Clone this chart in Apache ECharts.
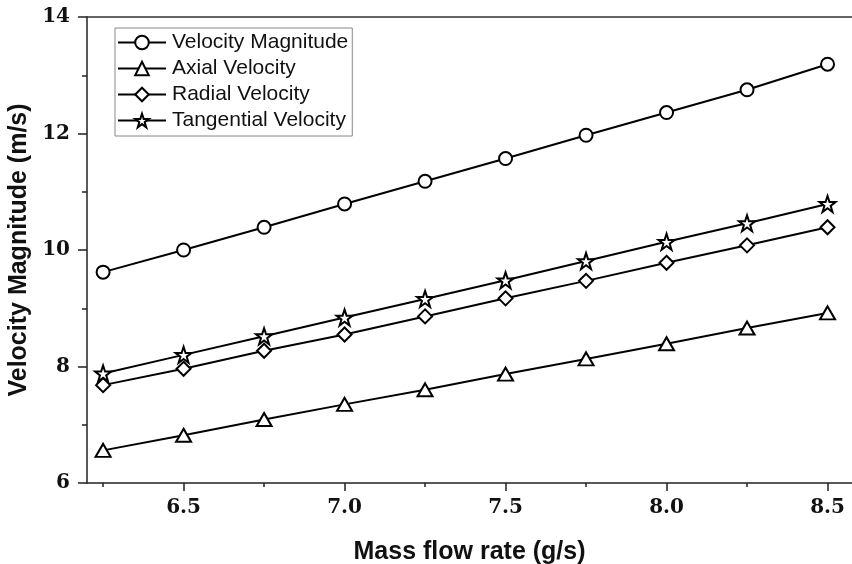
<!DOCTYPE html>
<html>
<head>
<meta charset="utf-8">
<script src="https://cdn.jsdelivr.net/npm/echarts@6/dist/echarts.min.js"></script>
<style>html,body{margin:0;padding:0;background:#fff}#c{width:852px;height:564px}</style>
</head>
<body>
<div id="c"></div>
<script>
const massFlow = [6.25, 6.5, 6.75, 7.0, 7.25, 7.5, 7.75, 8.0, 8.25, 8.5];
const velocityMagnitude = [9.62, 10.00, 10.39, 10.79, 11.18, 11.57, 11.97, 12.36, 12.75, 13.19];
const axialVelocity = [6.56, 6.82, 7.09, 7.35, 7.60, 7.87, 8.13, 8.39, 8.66, 8.92];
const radialVelocity = [7.68, 7.96, 8.27, 8.55, 8.86, 9.17, 9.47, 9.78, 10.08, 10.39];
const tangentialVelocity = [7.88, 8.20, 8.52, 8.84, 9.16, 9.48, 9.81, 10.14, 10.46, 10.79];
const xMajorTicks = [6.5, 7.0, 7.5, 8.0, 8.5];
const xMinorTicks = [6.25, 6.75, 7.25, 7.75, 8.25];
const seriesNames = ['Velocity Magnitude', 'Axial Velocity', 'Radial Velocity', 'Tangential Velocity'];

const STAR = 'path://M50,2 L61.8,36.2 L97.6,36.2 L68.6,57.4 L79.6,91.6 L50,70.4 L20.4,91.6 L31.4,57.4 L2.4,36.2 L38.2,36.2 Z';
const symbols = [['circle', 13], ['triangle', [15, 13]], ['diamond', [14, 14]], [STAR, 16]];
const dataSets = [velocityMagnitude, axialVelocity, radialVelocity, tangentialVelocity];

const X_MIN = 6.2, X_MAX = 8.576;
const chart = echarts.init(document.getElementById('c'), null, {renderer: 'canvas'});
const labelFont = {fontFamily: 'DejaVu Serif', fontWeight: 'bold', fontSize: 20, color: '#111'};
const nameFont = {fontFamily: 'Liberation Sans', fontWeight: 'bold', fontSize: 25, color: '#111'};
chart.setOption({
  animation: false,
  backgroundColor: '#fff',
  grid: {left: 87, right: 0, top: 17, bottom: 81, show: false, containLabel: false, outerBoundsMode: 'none'},
  legend: {
    left: 115, top: 28, orient: 'vertical',
    itemWidth: 48, itemHeight: 17, itemGap: 5,
    padding: [4, 4, 5, 2],
    borderColor: '#888', borderWidth: 1,
    textStyle: {fontFamily: 'Liberation Sans', fontSize: 21, color: '#111', padding: [0, 0, 0, 1]},
    data: seriesNames
  },
  xAxis: [{
    type: 'value', min: X_MIN, max: X_MAX, position: 'bottom',
    name: 'Mass flow rate (g/s)', nameLocation: 'middle', nameGap: 57,
    nameTextStyle: nameFont,
    axisLine: {show: true, lineStyle: {color: '#222', width: 1.5}},
    axisTick: {show: true, length: 8, customValues: xMajorTicks, lineStyle: {color: '#222', width: 1.5}},
    axisLabel: Object.assign({customValues: xMajorTicks, margin: 15, formatter: v => Number(v).toFixed(1)}, labelFont),
    splitLine: {show: false}
  }, {
    type: 'value', min: X_MIN, max: X_MAX, position: 'bottom',
    axisLine: {show: false},
    axisTick: {show: true, length: 4, customValues: xMinorTicks, lineStyle: {color: '#222', width: 1.5}},
    axisLabel: {show: false},
    splitLine: {show: false}
  }, {
    type: 'value', min: X_MIN, max: X_MAX, position: 'top',
    axisLine: {show: true, onZero: false, lineStyle: {color: '#333', width: 1.5}},
    axisTick: {show: false},
    axisLabel: {show: false},
    splitLine: {show: false}
  }],
  yAxis: {
    type: 'value', min: 6, max: 14, interval: 2,
    name: 'Velocity Magnitude (m/s)', nameLocation: 'middle', nameGap: 51,
    nameTextStyle: nameFont,
    axisLine: {show: true, lineStyle: {color: '#222', width: 1.5}},
    axisTick: {show: true, length: 9, lineStyle: {color: '#222', width: 1.5}},
    minorTick: {show: true, splitNumber: 2, length: 5, lineStyle: {color: '#222', width: 1.5}},
    axisLabel: Object.assign({margin: 17}, labelFont),
    splitLine: {show: false}
  },
  series: seriesNames.map((n, i) => ({
    name: n, type: 'line', xAxisIndex: 0,
    data: massFlow.map((x, j) => [x, dataSets[i][j]]),
    symbol: symbols[i][0], symbolSize: symbols[i][1],
    showAllSymbol: true,
    lineStyle: {color: '#000', width: 2},
    itemStyle: {color: '#fff', borderColor: '#000', borderWidth: 2},
    z: 2
  }))
});
</script>
</body>
</html>
